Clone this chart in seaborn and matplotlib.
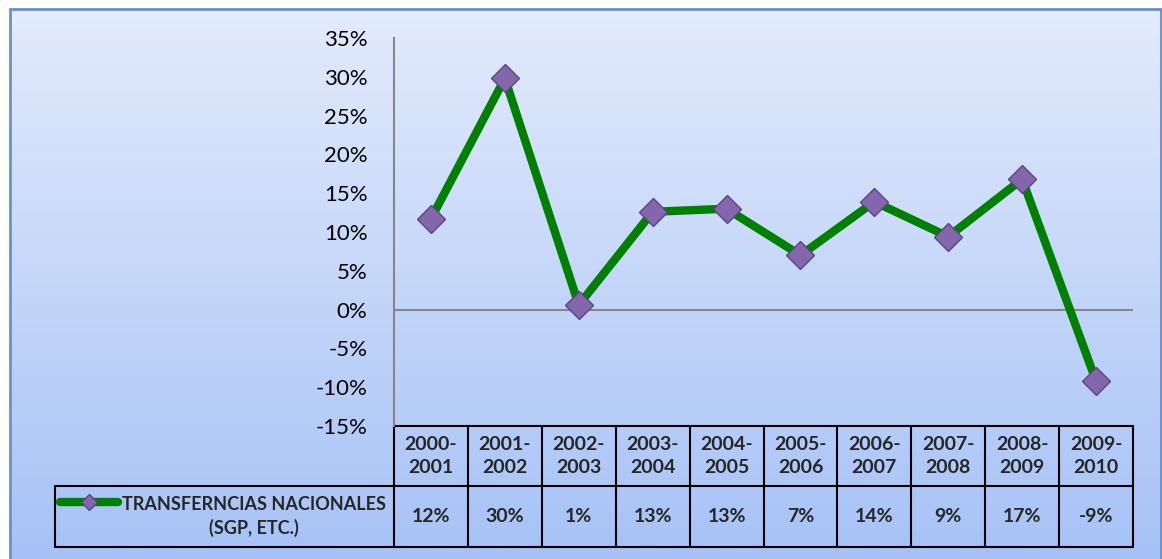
import numpy as np
import pandas as pd
import matplotlib
matplotlib.use('Agg')
import matplotlib.pyplot as plt
import matplotlib.transforms as mtransforms
from matplotlib.colors import LinearSegmentedColormap
from matplotlib.patches import Rectangle
import seaborn as sns

# data
periods = ['2000-2001', '2001-2002', '2002-2003', '2003-2004', '2004-2005',
           '2005-2006', '2006-2007', '2007-2008', '2008-2009', '2009-2010']
values = [0.117, 0.298, 0.006, 0.126, 0.130, 0.070, 0.139, 0.094, 0.168, -0.092]
series_name = 'TRANSFERNCIAS NACIONALES\n(SGP, ETC.)'
y_ticks = [-0.15, -0.10, -0.05, 0.0, 0.05, 0.10, 0.15, 0.20, 0.25, 0.30, 0.35]

df = pd.DataFrame({'periodo': periods, 'variacion': values})

sns.set_theme(style='white')
plt.rcParams['font.family'] = ['Lato', 'DejaVu Sans']

W, H = 1162, 559
fig = plt.figure(figsize=(W / 100, H / 100), dpi=100, facecolor='white')

# gradient background inside the chart border
bg = fig.add_axes([10 / W, 0, (1161 - 10) / W, (H - 9) / H], zorder=-10)
cmap = LinearSegmentedColormap.from_list('bg', ['#e3ebfc', '#a6c2f6'])
bg.imshow(np.linspace(0, 1, 256)[:, None], aspect='auto', cmap=cmap, extent=[0, 1, 0, 1])
bg.add_patch(Rectangle((0, -0.05), 1, 1.05, transform=bg.transAxes, fill=False,
                       edgecolor='#6b90c8', lw=2, clip_on=False))
bg.axis('off')

# plot area
ax = fig.add_axes([394 / W, 1 - 426 / H, 739 / W, 388 / H])
ax.patch.set_alpha(0)
sns.lineplot(data=df, x='periodo', y='variacion', ax=ax, sort=False,
             color='#008000', lw=6, marker='D', markersize=14,
             markerfacecolor='#8466ad', markeredgecolor='#5b4680', markeredgewidth=1)
ax.set_xlim(-0.5, 9.5)
ax.set_ylim(-0.15, 0.35)
ax.set_yticks(y_ticks)
ax.set_yticklabels([f'{t:.0%}' for t in y_ticks])
ax.tick_params(axis='y', length=0, pad=19, labelsize=16, labelcolor='black')
ax.tick_params(axis='x', bottom=False, labelbottom=False)
ax.set_xlabel('')
ax.set_ylabel('')
ax.axhline(0, color='#868686', lw=1.5, zorder=1)
for s in ['top', 'right', 'bottom']:
    ax.spines[s].set_visible(False)
ax.spines['left'].set_color('#868686')
ax.spines['left'].set_linewidth(1.5)

# data table under the plot
trans = mtransforms.blended_transform_factory(ax.transData, ax.transAxes)
h1 = -60 / 388
h2 = -121 / 388
x_leg = -5.087
n = len(periods)
kw = dict(transform=trans, clip_on=False, color='black', lw=1.5)
ax.plot([-0.5, n - 0.5], [0, 0], **kw)
ax.plot([x_leg, n - 0.5], [h1, h1], **kw)
ax.plot([x_leg, n - 0.5], [h2, h2], **kw)
ax.plot([x_leg, x_leg], [h1, h2], **kw)
for i in range(n + 1):
    ax.plot([i - 0.5, i - 0.5], [0, h2], **kw)

for i, (p, v) in enumerate(zip(periods, values)):
    ax.text(i, h1 / 2, p.replace('-', '-\n'), transform=trans, ha='center', va='center',
            fontsize=14, fontweight='bold', linespacing=1.45)
    ax.text(i, (h1 + h2) / 2, f'{v:.0%}', transform=trans, ha='center', va='center',
            fontsize=14, fontweight='bold')

# legend key in the table
ax.plot([-5.02, -4.235], [-0.196, -0.196], transform=trans, clip_on=False,
        color='#008000', lw=6, solid_capstyle='round')
ax.plot([-4.63], [-0.196], transform=trans, clip_on=False, marker='D', markersize=8,
        markerfacecolor='#8466ad', markeredgecolor='#5b4680', lw=0)
ax.text(-2.394, (h1 + h2) / 2, series_name, transform=trans, ha='center', va='center',
        fontsize=13, fontweight='bold', linespacing=1.45)

fig.savefig('out.png', dpi=100)
